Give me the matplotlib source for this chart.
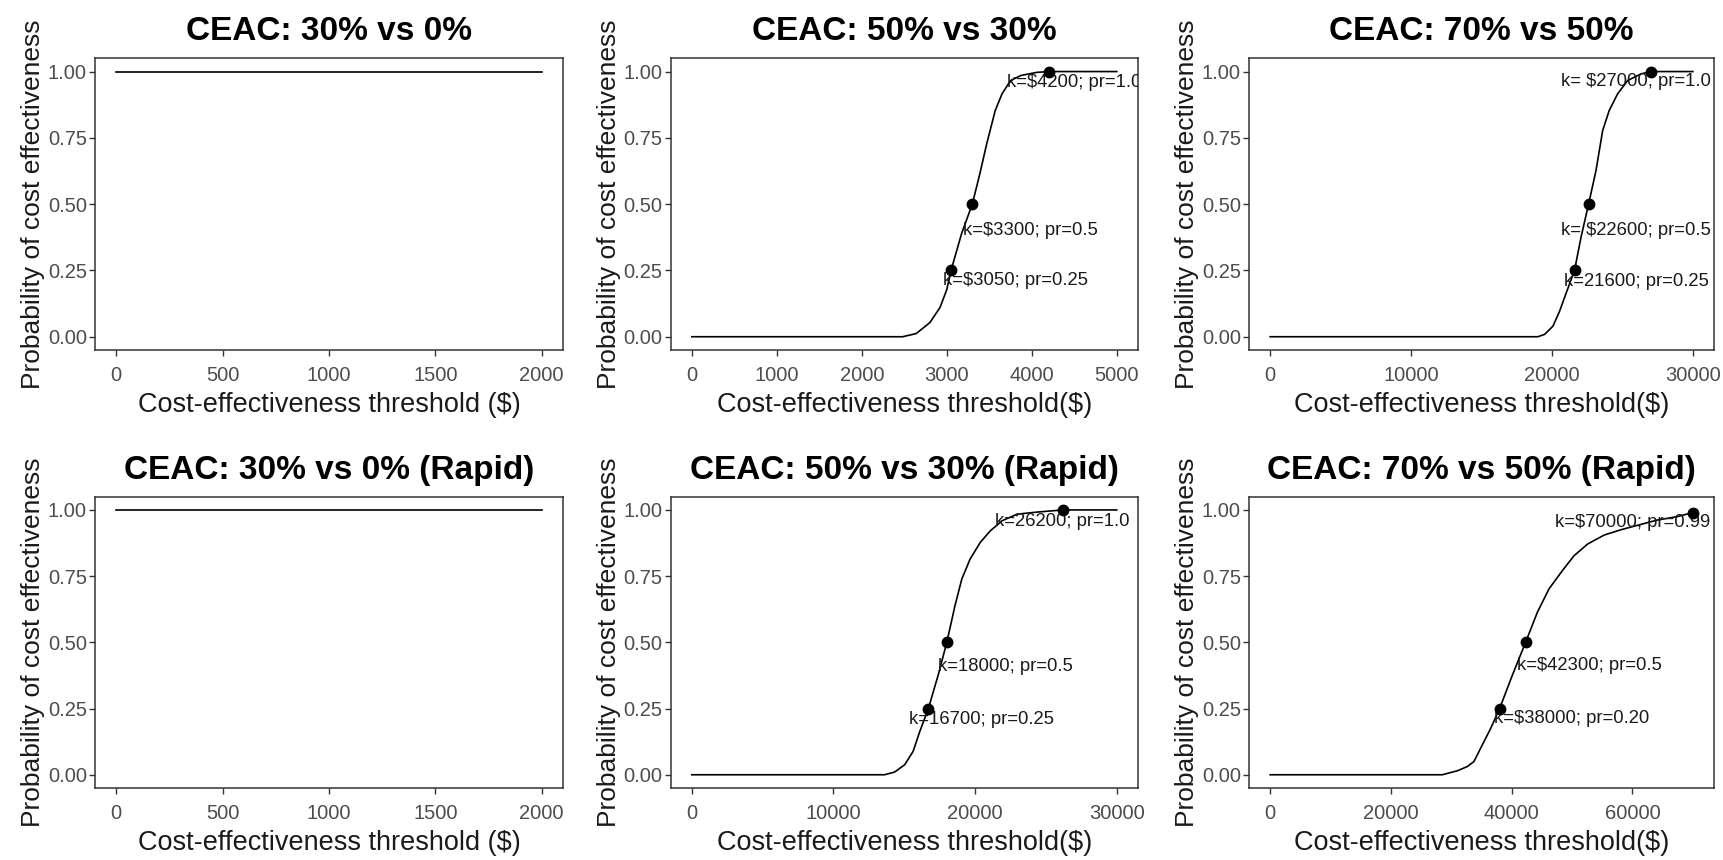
import matplotlib
matplotlib.use("Agg")
import matplotlib.pyplot as plt

plt.rcParams['font.family'] = ['Liberation Sans', 'DejaVu Sans']

# ---------------- data ----------------
titles = ["CEAC: 30% vs 0%", "CEAC: 50% vs 30%", "CEAC: 70% vs 50%",
          "CEAC: 30% vs 0% (Rapid)", "CEAC: 50% vs 30% (Rapid)", "CEAC: 70% vs 50% (Rapid)"]
xlabels = ["Cost-effectiveness threshold ($)", "Cost-effectiveness threshold($)",
           "Cost-effectiveness threshold($)", "Cost-effectiveness threshold ($)",
           "Cost-effectiveness threshold($)", "Cost-effectiveness threshold($)"]
ylabel = "Probability of cost effectiveness"

# curves
x1 = [0, 2000]
y1 = [1.0, 1.0]

x2 = [0, 2480, 2640, 2800, 2920, 3000, 3050, 3175, 3300, 3390, 3470, 3570, 3650,
      3750, 3870, 4060, 4200, 5000]
y2 = [0, 0, 0.012, 0.053, 0.11, 0.178, 0.25, 0.39, 0.5, 0.616, 0.728, 0.853, 0.916,
      0.966, 0.985, 0.997, 1.0, 1.0]

x3 = [0, 19000, 19480, 20070, 20540, 21010, 21600, 22070, 22600, 23130, 23600, 24070,
      24660, 25370, 26310, 27000, 30000]
y3 = [0, 0, 0.009, 0.04, 0.096, 0.165, 0.25, 0.377, 0.5, 0.628, 0.778, 0.854,
      0.916, 0.966, 0.991, 1.0, 1.0]

x4 = [0, 2000]
y4 = [1.0, 1.0]

x5 = [0, 13600, 14310, 15030, 15620, 16090, 16700, 17390, 18000, 18580, 19060, 19650,
      20360, 21070, 21900, 22960, 24390, 26200, 30000]
y5 = [0, 0, 0.01, 0.038, 0.088, 0.163, 0.25, 0.376, 0.5, 0.639, 0.739, 0.815,
      0.877, 0.921, 0.959, 0.984, 0.992, 1.0, 1.0]

x6 = [0, 28500, 31000, 32650, 33750, 35140, 36520, 38000, 40110, 42300, 44260, 46180,
      48400, 50320, 52550, 55300, 58060, 60830, 64150, 67460, 70000]
y6 = [0, 0, 0.015, 0.031, 0.05, 0.113, 0.175, 0.25, 0.376, 0.5, 0.614, 0.702,
      0.771, 0.827, 0.871, 0.905, 0.925, 0.942, 0.962, 0.975, 0.99]

# highlighted points
k2, p2 = [3050, 3300, 4200], [0.25, 0.5, 1.0]
k3, p3 = [21600, 22600, 27000], [0.25, 0.5, 1.0]
k5, p5 = [16700, 18000, 26200], [0.25, 0.5, 1.0]
k6, p6 = [38000, 42300, 70000], [0.25, 0.5, 0.99]

# labels (text, x of left edge, y of centre)
lab2 = ["k=$3050; pr=0.25", "k=$3300; pr=0.5", "k=$4200; pr=1.0"]
lx2, ly2 = [2955, 3195, 3705], [0.212, 0.40, 0.958]
lab3 = ["k=21600; pr=0.25", "k= $22600; pr=0.5", "k= $27000; pr=1.0"]
lx3, ly3 = [20850, 20610, 20610], [0.209, 0.40, 0.962]
lab5 = ["k=16700; pr=0.25", "k=18000; pr=0.5", "k=26200; pr=1.0"]
lx5, ly5 = [15330, 17390, 21420], [0.207, 0.408, 0.958]
lab6 = ["k=$38000; pr=0.20", "k=$42300; pr=0.5", "k=$70000; pr=0.99"]
lx6, ly6 = [37070, 40830, 47130], [0.212, 0.412, 0.952]

xticks = [[0, 500, 1000, 1500, 2000],
          [0, 1000, 2000, 3000, 4000, 5000],
          [0, 10000, 20000, 30000],
          [0, 500, 1000, 1500, 2000],
          [0, 10000, 20000, 30000],
          [0, 20000, 40000, 60000]]
yticks = [0, 0.25, 0.5, 0.75, 1.0]
ytick_labels = ["0.00", "0.25", "0.50", "0.75", "1.00"]

curves = [(x1, y1), (x2, y2), (x3, y3), (x4, y4), (x5, y5), (x6, y6)]
points = [None, (k2, p2), (k3, p3), None, (k5, p5), (k6, p6)]
labels = [None, (lab2, lx2, ly2), (lab3, lx3, ly3), None, (lab5, lx5, ly5), (lab6, lx6, ly6)]

# ---------------- layout ----------------
W, H = 1723, 860
fig = plt.figure(figsize=(W / 100, H / 100), dpi=100)

cols = [(95, 563), (670.6, 1138), (1249, 1714)]
rows = [(58.3, 350), (496.7, 788)]

grey30 = "#4D4D4D"
grey20 = "#333333"

for i in range(6):
    r, c = divmod(i, 3)
    l, rgt = cols[c]
    t, b = rows[r]
    ax = fig.add_axes([l / W, 1 - b / H, (rgt - l) / W, (b - t) / H])
    xs, ys = curves[i]
    ax.plot(xs, ys, color="black", lw=1.2, zorder=2)
    if labels[i] is not None:
        txts, lxs, lys = labels[i]
        for s, tx, ty in zip(txts, lxs, lys):
            ax.text(tx, ty, s, ha="left", va="center", fontsize=13.3,
                    color="#1a1a1a", parse_math=False, clip_on=True, zorder=3)
    if points[i] is not None:
        ks, ps = points[i]
        ax.plot(ks, ps, "o", color="black", ms=7.5, zorder=4)

    xmax = max(xs)
    ax.set_xlim(-0.05 * xmax, 1.05 * xmax)
    ax.set_ylim(-0.05, 1.05)
    ax.set_xticks(xticks[i])
    ax.set_xticklabels([str(v) for v in xticks[i]])
    ax.set_yticks(yticks)
    ax.set_yticklabels(ytick_labels)
    ax.tick_params(axis="both", length=4.3, width=1.0, color=grey20,
                   labelcolor=grey30, labelsize=14.5)
    ax.tick_params(axis="x", pad=7)
    ax.tick_params(axis="y", pad=1.5)
    for sp in ax.spines.values():
        sp.set_color(grey20)
        sp.set_linewidth(1.1)
    ax.set_title(titles[i], fontsize=24, fontweight="bold", pad=13)
    ax.set_xlabel(xlabels[i], fontsize=19.5, labelpad=5, parse_math=False,
                  color="#1a1a1a")
    ax.set_ylabel(ylabel, fontsize=19, labelpad=2, color="#1a1a1a")

fig.savefig("out.png", dpi=100, facecolor="white")
